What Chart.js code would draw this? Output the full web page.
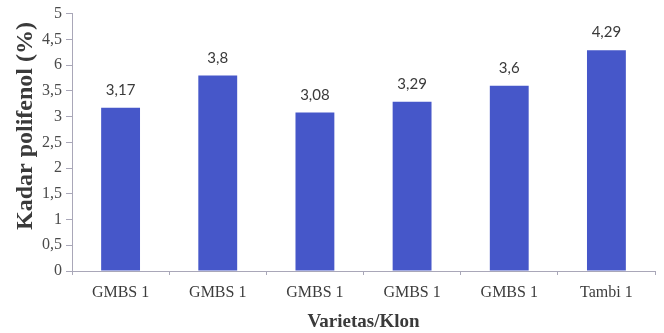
<!DOCTYPE html>
<html>
<head>
<meta charset="utf-8">
<script src="https://cdn.jsdelivr.net/npm/chart.js@4"></script>
<style>
  html, body { margin: 0; padding: 0; background: #ffffff; }
  #wrap { width: 664px; height: 333px; }
</style>
</head>
<body>
<div id="wrap"><canvas id="c" width="664" height="333"></canvas></div>
<script>
// Varieties / clones and their polyphenol content (%)
const categories = ['GMBS 1', 'GMBS 1', 'GMBS 1', 'GMBS 1', 'GMBS 1', 'Tambi 1'];
const polifenol = [3.17, 3.8, 3.08, 3.29, 3.6, 4.29];
const valueLabels = ['3,17', '3,8', '3,08', '3,29', '3,6', '4,29'];
// Y-axis tick labels, 0 to 5 in steps of 0.5
const yTickLabels = ['0', '0,5', '1', '1,5', '2', '2,5', '3', '3,5', '6', '4,5', '5'];
const yTitle = 'Kadar polifenol (%)';

const serif = '"Liberation Serif", "Times New Roman", serif';
const axisColor = '#a9a7b8';

// Writes each bar's value above it
const valueLabelPlugin = {
  id: 'valueLabels',
  afterDatasetsDraw(chart) {
    const ctx = chart.ctx;
    const meta = chart.getDatasetMeta(0);
    ctx.save();
    ctx.font = '15px Lato, "Noto Sans", sans-serif';
    ctx.fillStyle = '#3a3a3a';
    ctx.textAlign = 'center';
    ctx.textBaseline = 'bottom';
    meta.data.forEach((bar, i) => {
      ctx.fillText(valueLabels[i], bar.x, bar.y - 10);
    });
    ctx.restore();
  }
};

// Vertical y-axis title, placed a little above the plot's middle
const yTitlePlugin = {
  id: 'yTitle',
  afterDraw(chart) {
    const ctx = chart.ctx;
    ctx.save();
    ctx.translate(26, 126);
    ctx.rotate(-Math.PI / 2);
    ctx.font = 'bold 24px ' + serif;
    ctx.fillStyle = '#3a3a3a';
    ctx.textAlign = 'center';
    ctx.textBaseline = 'middle';
    ctx.fillText(yTitle, 0, 0);
    ctx.restore();
  }
};

new Chart(document.getElementById('c'), {
  type: 'bar',
  data: {
    labels: categories,
    datasets: [{
      data: polifenol,
      backgroundColor: '#4657c9',
      borderWidth: 0,
      barPercentage: 0.4,
      categoryPercentage: 1.0
    }]
  },
  options: {
    responsive: false,
    animation: false,
    devicePixelRatio: 1,
    layout: { padding: { left: 0, right: 9, top: 6, bottom: 0 } },
    plugins: {
      legend: { display: false },
      tooltip: { enabled: false }
    },
    scales: {
      x: {
        grid: {
          offset: true,
          drawOnChartArea: false,
          drawTicks: true,
          tickLength: 4,
          color: axisColor
        },
        border: { color: axisColor, width: 1 },
        ticks: {
          font: { family: serif, size: 16 },
          color: '#3c3c3c',
          padding: 8,
          maxRotation: 0
        },
        title: {
          display: true,
          text: 'Varietas/Klon',
          font: { family: serif, size: 19, weight: 'bold' },
          color: '#3a3a3a',
          padding: { top: 0, bottom: 0 }
        },
        afterFit(scale) { scale.height = 62; }
      },
      y: {
        min: 0,
        max: 5,
        grid: {
          drawOnChartArea: false,
          drawTicks: true,
          tickLength: 6,
          color: axisColor
        },
        border: { color: axisColor, width: 1 },
        ticks: {
          stepSize: 0.5,
          font: { family: serif, size: 16 },
          color: '#4a4a4a',
          padding: 4,
          callback: (v, i) => yTickLabels[i]
        },
        afterFit(scale) { scale.width = 72; }
      }
    }
  },
  plugins: [valueLabelPlugin, yTitlePlugin]
});
</script>
</body>
</html>
